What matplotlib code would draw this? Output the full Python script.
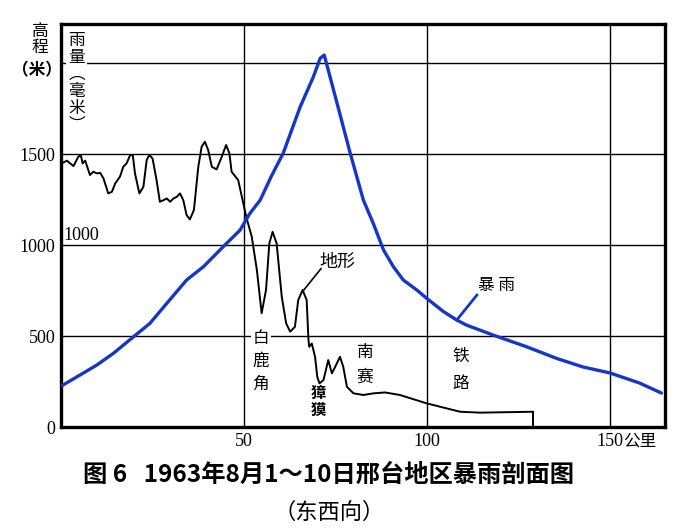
import matplotlib
matplotlib.use("Agg")
import matplotlib.pyplot as plt

plt.rcParams['font.family'] = ['Noto Sans CJK SC', 'DejaVu Sans']

# rainfall profile (mm) along the east-west section, km
rain_km = [0.3, 5.2, 9.8, 14.3, 19.8, 24.3, 28.9, 34.3, 38.9, 44.3, 48.9, 51.6,
           54.4, 57.5, 60.7, 65.3, 68.9, 70.8, 71.9, 73, 75.4, 79, 82.6, 85.3,
           88.1, 90.8, 93.5, 97.2, 99.9, 104.5, 108.1, 110.8, 118.1, 127.2,
           135.4, 142.6, 150, 158, 164]
rain_mm = [228, 286, 341, 405, 496, 570, 680, 808, 881, 991, 1082, 1174,
           1247, 1380, 1505, 1758, 1923, 2027, 2044, 1962, 1780, 1505, 1247, 1119,
           973, 881, 808, 753, 707, 634, 588, 560, 505, 441,
           377, 330, 297, 242, 187]

# terrain elevation (m)
terr_km = [0.2, 1.6, 3.4, 4.7, 5.4, 5.9, 6.6, 7.9, 8.8, 9.8, 10.7, 11.6, 12.9,
           13.9, 14.8, 16.1, 17.0, 17.9, 18.9, 19.6, 20.2, 21.4, 22.5, 23.4,
           24.1, 25.0, 26.1, 27.0, 28.0, 28.9, 29.8, 30.7, 31.6, 32.5, 33.4,
           34.3, 35.2, 36.3, 37.5, 38.4, 39.3, 40.2, 41.2, 42.5, 43.9, 45.1,
           46.0, 46.6, 48.4, 49.4, 50.7, 52.1, 53.5, 54.8, 56.0, 56.9, 57.8,
           58.9, 60.3, 61.5, 62.6, 63.9, 64.8, 66.0, 67.1, 67.6, 67.8, 68.5,
           69.4, 70.0, 70.6, 71.7, 73.0, 74.0, 74.9, 76.2, 77.1, 78.1, 79.9,
           82.6, 85.3, 88.5, 92.6, 99.9, 109, 114.5, 129]
terr_m = [1449, 1464, 1434, 1485, 1495, 1449, 1464, 1385, 1403, 1394, 1397, 1366, 1284,
          1293, 1339, 1376, 1430, 1449, 1495, 1495, 1394, 1284, 1320, 1467,
          1495, 1476, 1357, 1238, 1247, 1256, 1238, 1256, 1265, 1284, 1247,
          1165, 1141, 1192, 1430, 1540, 1568, 1522, 1430, 1416, 1485, 1550,
          1504, 1403, 1357, 1265, 1147, 1046, 863, 625, 753, 1009, 1073,
          1009, 716, 570, 524, 551, 698, 753, 698, 478, 441, 459,
          386, 276, 240, 258, 368, 295, 331, 386, 331, 221, 185,
          176, 185, 190, 176, 130, 84, 79, 84]

y_ticks = [0, 500, 1000, 1500]
x_ticks = [50, 100, 150]
x_tick_labels = ['50', '100', '150']

BLUE = '#1536c8'

fig = plt.figure(figsize=(6.92, 5.30), dpi=100)
ax = fig.add_axes([0.0882, 0.1943, 0.8728, 0.7604])
ax.set_xlim(0, 165)
ax.set_ylim(0, 2215)

# grid
for yv in [500, 1000, 1500, 2000]:
    ax.axhline(yv, color='black', lw=1.0, zorder=1)
for xv in x_ticks:
    ax.axvline(xv, color='black', lw=1.0, zorder=1)

ax.plot(terr_km, terr_m, color='black', lw=1.4, zorder=3,
        solid_joinstyle='round', solid_capstyle='round')
# end of terrain section
ax.plot([terr_km[-1], terr_km[-1]], [terr_m[-1], 0], color='black', lw=1.4, zorder=3)
ax.plot(rain_km, rain_mm, color=BLUE, lw=2.4, zorder=4,
        solid_joinstyle='round', solid_capstyle='round')

for s in ax.spines.values():
    s.set_linewidth(2.4)

ax.set_yticks(y_ticks)
ax.set_yticklabels([str(v) for v in y_ticks], family='Liberation Serif', fontsize=13)
ax.set_xticks(x_ticks)
ax.set_xticklabels(x_tick_labels, family='Liberation Serif', fontsize=13)
ax.tick_params(length=0, pad=4)
ax.text(153.5, -30, '公里', fontsize=12, va='top', ha='left')

txt_box = dict(facecolor='white', edgecolor='none', pad=1.5)
ax.text(0.6, 1005, '1000', family='Liberation Serif', fontsize=13, ha='left', va='bottom', zorder=2)
ax.text(4.3, 2170, '雨\n量\n︵\n毫\n米\n︶', fontsize=12, ha='center', va='top',
        linespacing=1.0, zorder=2, bbox=txt_box)
fig.text(0.058, 0.957, '高\n程', fontsize=12, ha='center', va='top', linespacing=0.95)
fig.text(0.054, 0.867, '（米）', fontsize=12, ha='center', va='center', weight='bold')

ax.text(54.6, 535, '白\n鹿\n角', fontsize=12, ha='center', va='top', linespacing=1.45,
        zorder=2, bbox=txt_box)
ax.text(70.4, 230, '獐\n獏', fontsize=11, ha='center', va='top', linespacing=1.05,
        weight='bold', zorder=2)
ax.text(83, 455, '南\n赛', fontsize=12, ha='center', va='top', linespacing=1.6, zorder=2)
ax.text(109.3, 435, '铁\n路', fontsize=12, ha='center', va='top', linespacing=1.8, zorder=2)

ax.text(70.5, 910, '地形', fontsize=13, ha='left', va='center', zorder=5)
ax.plot([66.2, 71], [750, 870], color='black', lw=1.2, zorder=3)
ax.text(113.9, 780, '暴 雨', fontsize=12, ha='left', va='center', zorder=5)
ax.plot([108.1, 113.6], [588, 725], color=BLUE, lw=2.0, zorder=4)

fig.text(0.475, 0.104, '图 6   1963年8月1～10日邢台地区暴雨剖面图', fontsize=17.5,
         weight='bold', ha='center', va='center')
fig.text(0.475, 0.034, '（东西向）', fontsize=16, ha='center', va='center')

fig.savefig('out.png', dpi=100)
